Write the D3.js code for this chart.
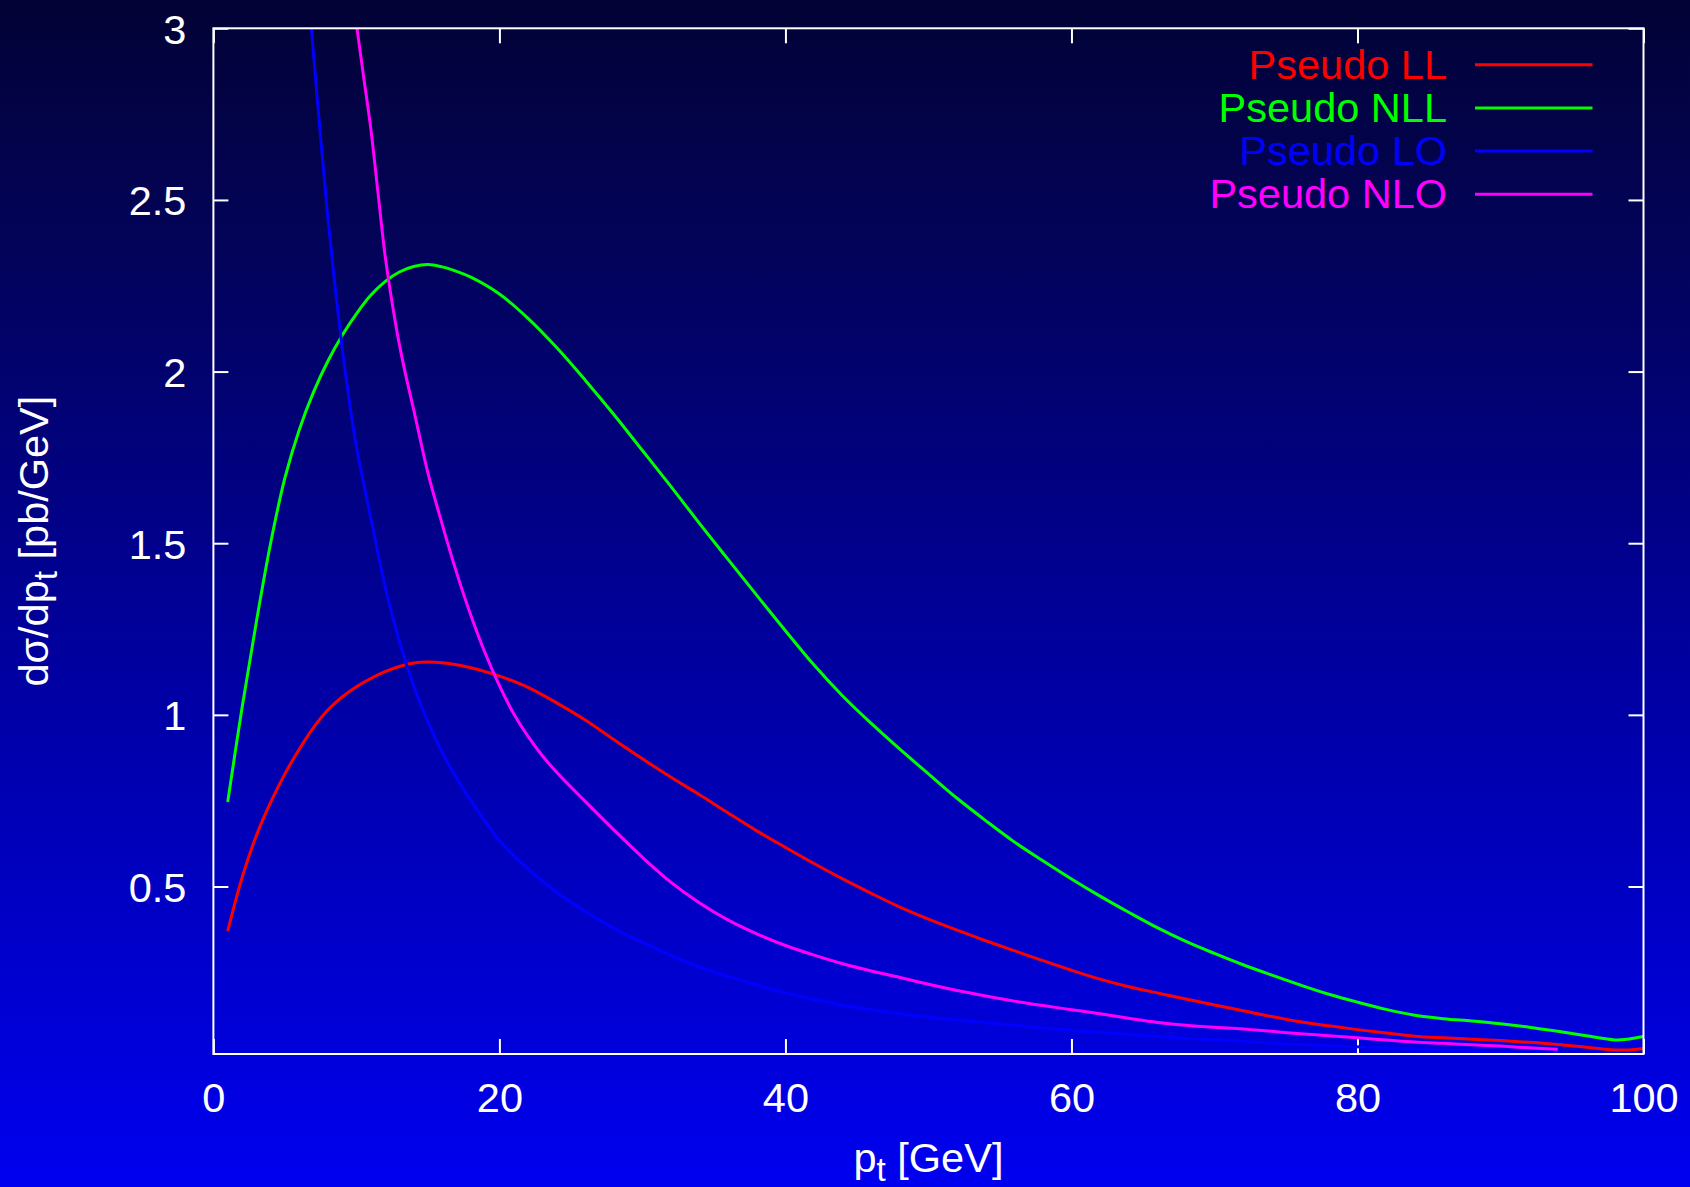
<!DOCTYPE html>
<html>
<head>
<meta charset="utf-8">
<script src="https://cdn.jsdelivr.net/npm/d3@7"></script>
<style>
  html, body { margin: 0; padding: 0; background: #000060; }
  svg { display: block; }
  text { font-family: "Liberation Sans", Arial, Helvetica, sans-serif; }
</style>
</head>
<body>
<svg id="chart" width="1690" height="1187"></svg>
<script>
// ---------- data ----------
const seriesNames = ["Pseudo LL", "Pseudo NLL", "Pseudo LO", "Pseudo NLO"];
const seriesColors = ["#ff0000", "#00ff00", "#0000ff", "#ff00ff"];

const llPt  = [1, 2, 3, 4, 5, 6, 7, 8, 9, 10, 11, 12, 13, 14, 15, 16, 17, 18, 19, 20, 22, 24, 26, 28, 30, 32, 34, 36, 38, 40, 42, 44, 46, 48, 50, 52, 54, 56, 58, 60, 62, 64, 66, 68, 70, 72, 74, 76, 78, 80, 82, 84, 86, 88, 90, 92, 94, 96, 98, 99, 100];
const llVal = [0.37, 0.525, 0.648, 0.745, 0.828, 0.90, 0.963, 1.014, 1.052, 1.082, 1.106, 1.126, 1.141, 1.151, 1.154, 1.152, 1.146, 1.137, 1.126, 1.113, 1.08, 1.035, 0.985, 0.928, 0.872, 0.818, 0.767, 0.714, 0.662, 0.614, 0.567, 0.522, 0.48, 0.44, 0.405, 0.373, 0.342, 0.313, 0.284, 0.256, 0.23, 0.208, 0.19, 0.172, 0.155, 0.138, 0.121, 0.106, 0.094, 0.083, 0.073, 0.064, 0.059, 0.055, 0.051, 0.046, 0.04, 0.032, 0.024, 0.024, 0.028];

const nllPt  = [1, 2, 3, 4, 5, 6, 7, 8, 9, 10, 11, 12, 13, 14, 15, 16, 17, 18, 20, 22, 24, 26, 28, 30, 32, 34, 36, 38, 40, 42, 44, 46, 48, 50, 52, 54, 56, 58, 60, 62, 64, 66, 68, 70, 72, 74, 76, 78, 80, 82, 84, 86, 88, 90, 92, 94, 96, 98, 99, 100];
const nllVal = [0.746, 1.02, 1.27, 1.50, 1.69, 1.83, 1.94, 2.03, 2.105, 2.168, 2.222, 2.262, 2.29, 2.306, 2.312, 2.305, 2.292, 2.275, 2.226, 2.155, 2.07, 1.975, 1.875, 1.77, 1.665, 1.557, 1.452, 1.348, 1.245, 1.145, 1.055, 0.975, 0.90, 0.828, 0.757, 0.692, 0.63, 0.575, 0.522, 0.472, 0.425, 0.38, 0.34, 0.305, 0.272, 0.242, 0.213, 0.186, 0.163, 0.142, 0.125, 0.115, 0.108, 0.10, 0.09, 0.078, 0.065, 0.053, 0.056, 0.063];

const loPt  = [6.85, 7.5, 8, 8.5, 9, 9.5, 10, 11, 12, 13, 14, 15, 16, 17, 18, 19, 20, 22, 24, 26, 28, 30, 32, 34, 36, 38, 40, 42, 44, 46, 48, 50, 52, 54, 56, 58, 60, 62, 64, 66, 68, 70, 72, 74, 76, 78, 80, 82, 84, 86, 88, 90, 92, 94, 96, 98];
const loVal = [3.0, 2.68, 2.45, 2.25, 2.07, 1.915, 1.78, 1.575, 1.375, 1.215, 1.085, 0.98, 0.89, 0.815, 0.75, 0.69, 0.634, 0.551, 0.483, 0.427, 0.378, 0.337, 0.299, 0.265, 0.238, 0.213, 0.19, 0.171, 0.155, 0.141, 0.129, 0.119, 0.111, 0.103, 0.096, 0.088, 0.081, 0.075, 0.069, 0.063, 0.058, 0.054, 0.049, 0.044, 0.04, 0.036, 0.033, 0.03, 0.026, 0.023, 0.02, 0.016, 0.013, 0.011, 0.009, 0.008];

const nloPt  = [10.04, 10.5, 11, 11.5, 12, 12.5, 13, 13.5, 14, 15, 16, 17, 18, 19, 20, 21, 22, 23, 24, 26, 28, 30, 32, 34, 36, 38, 40, 42, 44, 46, 48, 50, 52, 54, 56, 58, 60, 62, 64, 66, 68, 70, 72, 74, 76, 78, 80, 82, 84, 86, 88, 90, 92, 94];
const nloVal = [3.0, 2.86, 2.71, 2.525, 2.34, 2.2, 2.08, 1.98, 1.89, 1.705, 1.555, 1.415, 1.29, 1.18, 1.085, 1.003, 0.937, 0.881, 0.833, 0.748, 0.665, 0.585, 0.512, 0.452, 0.402, 0.362, 0.328, 0.30, 0.275, 0.254, 0.235, 0.215, 0.197, 0.181, 0.166, 0.153, 0.141, 0.129, 0.116, 0.104, 0.096, 0.09, 0.085, 0.078, 0.071, 0.065, 0.059, 0.053, 0.047, 0.043, 0.039, 0.035, 0.03, 0.026];

const xTicks = [0, 20, 40, 60, 80, 100];
const xTickLabels = ["0", "20", "40", "60", "80", "100"];
const yTicks = [0.5, 1, 1.5, 2, 2.5, 3];
const yTickLabels = ["0.5", "1", "1.5", "2", "2.5", "3"];
const xDomain = [0, 100];
const yDomain = [0.012, 3];

// ---------- layout ----------
const W = 1690, H = 1187;
const L = 213.4, R = 1643.5, T = 28.3, B = 1054;
const FS = 41.5;

const svg = d3.select("#chart");
const defs = svg.append("defs");
const grad = defs.append("linearGradient").attr("id", "bg")
  .attr("x1", 0).attr("y1", 0).attr("x2", 0).attr("y2", 1);
[[0, "#020236"], [0.21, "#03035a"], [0.56, "#0000a0"], [1, "#0000f0"]].forEach(s =>
  grad.append("stop").attr("offset", s[0]).attr("stop-color", s[1]));
svg.append("rect").attr("width", W).attr("height", H).attr("fill", "url(#bg)");

defs.append("clipPath").attr("id", "plotclip").append("rect")
  .attr("x", L).attr("y", T).attr("width", R - L).attr("height", B - T);

const x = d3.scaleLinear().domain(xDomain).range([L, R]);
const y = d3.scaleLinear().domain(yDomain).range([B, T]);

// ticks (inward, mirrored on all sides)
const tickLen = 15;
const axisStyle = g => {
  g.select(".domain").remove();
  g.selectAll(".tick line").attr("stroke", "#ffffff").attr("stroke-width", 2);
  g.selectAll(".tick text").attr("fill", "#ffffff").style("font-size", FS + "px")
    .style("font-family", "'Liberation Sans', Arial, sans-serif");
};

svg.append("g").attr("transform", `translate(0,${B})`)
  .call(d3.axisBottom(x).tickValues(xTicks).tickSize(-tickLen).tickPadding(29)
    .tickFormat((d, i) => xTickLabels[i]))
  .call(axisStyle);
svg.append("g").attr("transform", `translate(0,${T})`)
  .call(d3.axisTop(x).tickValues(xTicks).tickSize(-tickLen).tickFormat(""))
  .call(axisStyle);
const yAxisG = svg.append("g").attr("transform", `translate(${L},0)`)
  .call(d3.axisLeft(y).tickValues(yTicks).tickSize(-tickLen).tickPadding(27)
    .tickFormat((d, i) => yTickLabels[i]))
  .call(axisStyle);
yAxisG.selectAll(".tick text").attr("dy", "0.36em");
svg.append("g").attr("transform", `translate(${R},0)`)
  .call(d3.axisRight(y).tickValues(yTicks).tickSize(-tickLen).tickFormat(""))
  .call(axisStyle);

// curves
const seriesData = [
  d3.zip(llPt, llVal),
  d3.zip(nllPt, nllVal),
  d3.zip(loPt, loVal),
  d3.zip(nloPt, nloVal)
];
const line = d3.line().x(d => x(d[0])).y(d => y(d[1])).curve(d3.curveCatmullRom.alpha(0.5));
const plot = svg.append("g").attr("clip-path", "url(#plotclip)");
seriesData.forEach((data, i) => {
  plot.append("path").datum(data)
    .attr("d", line)
    .attr("fill", "none")
    .attr("stroke", seriesColors[i])
    .attr("stroke-width", 3)
    .attr("stroke-linejoin", "round");
});

// border
svg.append("rect").attr("x", L).attr("y", T).attr("width", R - L).attr("height", B - T)
  .attr("fill", "none").attr("stroke", "#ffffff").attr("stroke-width", 2);

// legend
const legY0 = 64.7, legDy = 43.2;
const legend = svg.append("g");
seriesNames.forEach((name, i) => {
  const ly = legY0 + i * legDy;
  legend.append("text").attr("x", 1447).attr("y", ly + 14)
    .attr("text-anchor", "end").attr("fill", seriesColors[i])
    .style("font-size", FS + "px").text(name);
  legend.append("line").attr("x1", 1475).attr("x2", 1592.5)
    .attr("y1", ly).attr("y2", ly)
    .attr("stroke", seriesColors[i]).attr("stroke-width", 3);
});

// axis titles
const xt = svg.append("text").attr("x", (L + R) / 2).attr("y", 1171.5)
  .attr("text-anchor", "middle").attr("fill", "#fff").style("font-size", FS + "px");
xt.append("tspan").text("p");
xt.append("tspan").attr("dy", 9).style("font-size", (FS * 0.8) + "px").text("t");
xt.append("tspan").attr("dy", -9).text(" [GeV]");

const yt = svg.append("text")
  .attr("transform", `translate(48,${(T + B) / 2}) rotate(-90)`)
  .attr("text-anchor", "middle").attr("fill", "#fff").style("font-size", FS + "px");
yt.append("tspan").text("dσ/dp");
yt.append("tspan").attr("dy", 9).style("font-size", (FS * 0.8) + "px").text("t");
yt.append("tspan").attr("dy", -9).text(" [pb/GeV]");
</script>
</body>
</html>
